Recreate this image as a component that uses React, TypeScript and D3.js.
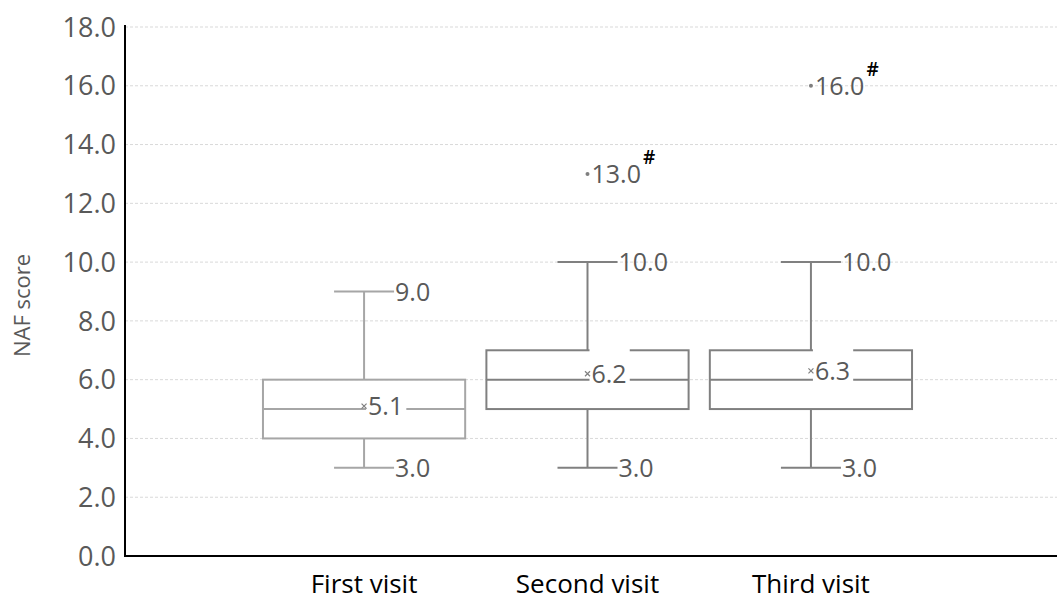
import React from "react";
import * as d3 from "d3";

const categories = ["First visit", "Second visit", "Third visit"];
const mins = [3, 3, 3];
const q1s = [4, 5, 5];
const medians = [5, 6, 6];
const q3s = [6, 7, 7];
const maxs = [9, 10, 10];
const means = [5.1, 6.2, 6.3];
const outliers: number[][] = [[], [13], [16]];
const boxColors = ["#a6a6a6", "#808080", "#808080"];
const yTicks = [0, 2, 4, 6, 8, 10, 12, 14, 16, 18];

const W = 1057;
const H = 600;
const left = 125;
const bottom = 556;
const top = 27;
const font = "'Open Sans', 'Noto Sans', sans-serif";
const textColor = "#595959";

export default function App() {
  const x = d3.scalePoint<string>().domain(categories).range([left, 1050]).padding(1.07);
  const y = d3.scaleLinear().domain([0, 18]).range([bottom, top]);
  const boxW = x.step() * 0.905;
  const capW = 60;
  const fmt = d3.format(".1f");
  const labelSize = 25;
  const textW = (s: string) =>
    s.split("").reduce((a, ch) => a + (ch === "." ? 0.266 : 0.572), 0) * labelSize;

  return (
    <svg width={W} height={H} style={{ position: "absolute", left: 0, top: 0, background: "#fff" }}>
      {/* gridlines */}
      {yTicks.map((t) => (
        <line key={"g" + t} x1={left} x2={W} y1={y(t)} y2={y(t)} stroke="#d9d9d9" strokeWidth={1} strokeDasharray="3,2" />
      ))}
      {/* y tick labels */}
      {yTicks.map((t) => (
        <text key={"t" + t} x={left - 9} y={y(t)} dy="0.36em" textAnchor="end" fontFamily={font} fontSize={27} fill={textColor}>
          {fmt(t)}
        </text>
      ))}
      {/* y label */}
      <text transform={`translate(30,${(top + bottom) / 2 + 14}) rotate(-90)`} textAnchor="middle" fontFamily={font} fontSize={22} fill={textColor}>
        NAF score
      </text>
      {/* boxes */}
      {categories.map((c, i) => {
        const cx = x(c)!;
        const col = boxColors[i];
        const meanText = fmt(means[i]);
        const tw = textW(meanText);
        return (
          <g key={c}>
            {/* whiskers */}
            <line x1={cx} x2={cx} y1={y(maxs[i])} y2={y(q3s[i])} stroke={col} strokeWidth={2} />
            <line x1={cx} x2={cx} y1={y(q1s[i])} y2={y(mins[i])} stroke={col} strokeWidth={2} />
            <line x1={cx - capW / 2} x2={cx + capW / 2} y1={y(maxs[i])} y2={y(maxs[i])} stroke={col} strokeWidth={2} />
            <line x1={cx - capW / 2} x2={cx + capW / 2} y1={y(mins[i])} y2={y(mins[i])} stroke={col} strokeWidth={2} />
            {/* box */}
            <rect x={cx - boxW / 2} y={y(q3s[i])} width={boxW} height={y(q1s[i]) - y(q3s[i])} fill="none" stroke={col} strokeWidth={2} />
            <line x1={cx - boxW / 2} x2={cx + boxW / 2} y1={y(medians[i])} y2={y(medians[i])} stroke={col} strokeWidth={2} />
            {/* max / min labels */}
            <text x={cx + capW / 2 + 1} y={y(maxs[i])} dy="0.36em" fontFamily={font} fontSize={labelSize} fill={textColor}>
              {fmt(maxs[i])}
            </text>
            <text x={cx + capW / 2 + 1} y={y(mins[i])} dy="0.36em" fontFamily={font} fontSize={labelSize} fill={textColor}>
              {fmt(mins[i])}
            </text>
            {/* mean label */}
            <rect x={cx + 2} y={y(means[i]) - 25} width={tw + 5} height={36} fill="#fff" />
            <text x={cx + 4} y={y(means[i])} dy="0.36em" fontFamily={font} fontSize={labelSize} fill={textColor}>
              {meanText}
            </text>
            {/* mean marker */}
            <path d={`M${cx - 2.5},${y(means[i]) - 2.5}L${cx + 2.5},${y(means[i]) + 2.5}M${cx - 2.5},${y(means[i]) + 2.5}L${cx + 2.5},${y(means[i]) - 2.5}`} stroke="#7f7f7f" strokeWidth={1.2} />
            {/* outliers */}
            {outliers[i].map((o) => {
              const ot = fmt(o);
              return (
                <g key={"o" + o}>
                  <circle cx={cx} cy={y(o)} r={2} fill="#7f7f7f" />
                  <text x={cx + 4} y={y(o)} dy="0.36em" fontFamily={font} fontSize={labelSize} fill={textColor}>
                    {ot}
                    <tspan dx={2} dy={-19} fontSize={19} fill="#000" fontWeight={600}>#</tspan>
                  </text>
                </g>
              );
            })}
          </g>
        );
      })}
      {/* axes */}
      <line x1={left} x2={left} y1={top - 2} y2={bottom + 1} stroke="#000" strokeWidth={2} />
      <line x1={left - 1} x2={W} y1={bottom} y2={bottom} stroke="#000" strokeWidth={2} />
      {/* category labels */}
      {categories.map((c) => (
        <text key={"c" + c} x={x(c)!} y={bottom + 37} textAnchor="middle" fontFamily={font} fontSize={26} fill="#000">
          {c}
        </text>
      ))}
    </svg>
  );
}
